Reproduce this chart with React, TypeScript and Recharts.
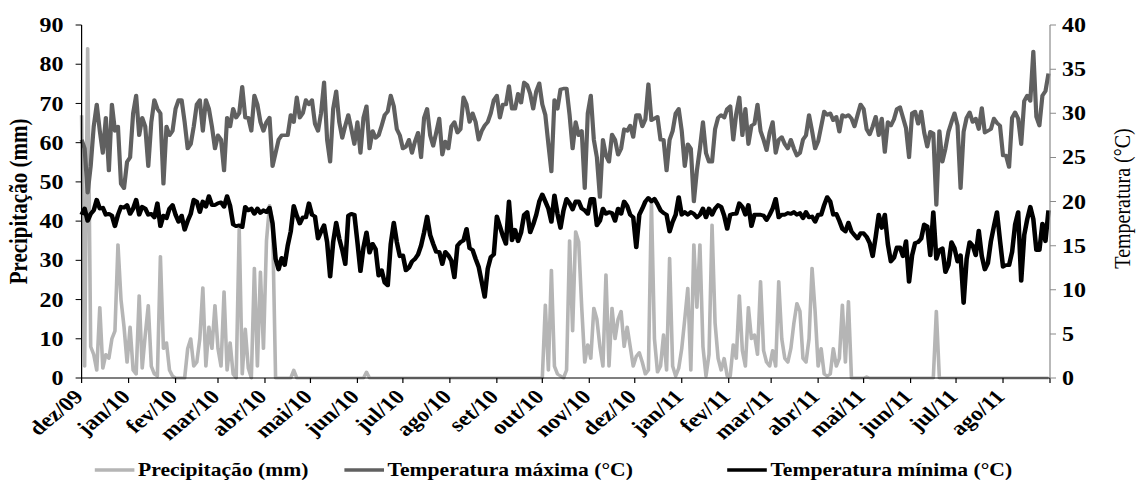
import React from 'react';
import { ComposedChart, Line, XAxis, YAxis, Legend, Label } from 'recharts';

const FONT = "'Liberation Serif', 'Times New Roman', serif";
const STEP_DAYS = 2;

// day index (from 01/dez/2009) where each month starts
const monthStarts = [0, 31, 62, 90, 121, 151, 182, 212, 243, 274, 304, 335, 365, 396, 427, 455, 486, 516, 547, 577, 608, 639];
const monthLabels = ['dez/09', 'jan/10', 'fev/10', 'mar/10', 'abr/10', 'mai/10', 'jun/10', 'jul/10', 'ago/10', 'set/10', 'out/10', 'nov/10', 'dez/10', 'jan/11', 'fev/11', 'mar/11', 'abr/11', 'mai/11', 'jun/11', 'jul/11', 'ago/11', ''];

const leftTicks = [0, 10, 20, 30, 40, 50, 60, 70, 80, 90];
const rightTicks = [0, 5, 10, 15, 20, 25, 30, 35, 40];

// one value every 2 days
const precipitacao = [
  67, 3, 84, 8, 6, 2, 18, 2.5, 6, 5,
  10, 12, 34, 20, 13, 4, 13, 2, 1, 21,
  2.5, 11, 18.5, 3, 1, 0.5, 31, 7.5, 9, 2,
  0.5, 0, 0, 0, 0, 7.5, 10, 3, 4, 10,
  23, 3, 13, 7.5, 18.5, 7.5, 3, 22, 2, 9,
  1, 0, 38, 1, 12.5, 2.5, 0, 28, 3, 27,
  7.5, 35,
  44, 40, 0, 0, 0, 0, 0, 0, 2, 0,
  0, 0, 0, 0, 0, 0, 0, 0, 0, 0,
  0, 0, 0, 0, 0, 0, 0, 0, 0, 0,
  0, 0, 1.5, 0, 0, 0, 0, 0, 0, 0,
  0, 0, 0, 0, 0, 0, 0, 0, 0, 0,
  0, 0, 0, 0, 0, 0, 0, 0, 0, 0,
  0, 0, 0, 0, 0, 0,
  0, 0, 0, 0, 0, 0, 0, 0, 0, 0,
  0, 0, 0, 0, 0, 0, 0, 0, 0, 0,
  0, 0, 0, 0, 0,
  18.6, 2, 27.5, 3, 1, 0.5, 0, 2, 35, 12,
  37.3, 34.7, 18, 4, 8.5, 5, 17.8, 15, 8, 3,
  26.3, 3, 17.8, 10, 15, 17, 8, 13, 8, 3,
  5.5, 6.5, 4, 1, 2, 45, 10, 1.5, 3, 11,
  2, 30.5, 3, 0.5, 2.5, 7.5, 15, 22.9, 2, 34,
  18, 34, 8, 0.5, 6, 39, 14, 5, 2, 5,
  0.5, 0.5, 8.5, 5, 21, 7, 3, 18, 10, 11,
  6, 24.6, 7, 4, 3, 7, 3, 24.6, 10, 5,
  4, 7.5, 14, 19, 17, 5, 4, 10, 28, 17,
  3, 7.5, 1, 0.5, 1, 7.5, 3, 5, 18.6, 4,
  19.5, 0, 0, 0,
  0, 0, 0.3, 0, 0, 0, 0, 0, 0, 0,
  0, 0, 0, 0, 0, 0, 0, 0, 0, 0,
  0, 0, 0, 0, 0, 17, 0, 0, 0, 0,
  0, 0, 0, 0, 0, 0, 0, 0, 0, 0,
  0, 0, 0, 0, 0, 0, 0, 0, 0, 0,
  0, 0, 0, 0, 0, 0, 0, 0, 0, 0,
  0, 0, 0,
];

const tempMaxima = [
  27, 26, 21, 24, 28.5, 31, 28, 25.5, 29.5, 23.5,
  31, 28, 28.5, 22, 21.5, 24.5, 25, 30, 32, 27.5,
  29.5, 28.5, 24, 29, 31.5, 30.5, 30, 22, 28.5, 27.5,
  28, 30.5, 31.5, 31.5, 29, 26, 26.5, 28.5, 31, 31.5,
  28, 31.5, 30.5, 28.5, 26, 27.5, 27, 23.5, 29.5, 28.5,
  30.5, 29.5, 30, 33, 29.5, 29.5, 28, 32, 31, 29,
  28, 29,
  29.5, 24, 25.5, 27, 27.5, 27.5, 27.5, 29.8, 29, 31.8,
  29.5, 30, 31.5, 31, 31.5, 28.8, 28, 30, 33.5, 27,
  24.5, 30.5, 32.5, 29, 27.2, 28.6, 29.8, 28.2, 26.5, 29,
  25.5, 29.5, 30.8, 26, 28, 27.2, 27.5, 28.6, 29.8, 30.2,
  32, 30.8, 28.2, 27.5, 26, 26.2, 27, 25.5, 26.8, 27.8,
  25, 29.5, 30.5, 27.5, 26.3, 27.8, 29.4, 25.3, 26.8, 26,
  28.5, 29, 27.8, 28.2, 31.8, 31,
  29, 30, 29, 27, 28, 28.6, 29, 30, 31.5, 32,
  29.5, 31, 31, 33.1, 30.5, 30.5, 32.2, 31.2, 33.5, 33.2,
  32.2, 30.5, 32.5, 33.4, 31, 29.8, 26.5, 23.4, 31.5, 30.5,
  32.7, 32.8, 32.8, 29.8, 26, 29, 27.5, 28, 21.5, 30,
  32, 27, 25, 20.5, 27, 25.2, 24.5, 27.6, 27, 25.3,
  26, 28.2, 28, 28.6, 27.3, 29.8, 29.8, 28.5, 29.3, 33.3,
  29.2, 29.4, 29.6, 27, 27,
  23.5, 27, 28, 30, 30.5, 28, 24, 26.5, 26, 20,
  23.5, 26, 29, 25.5, 24.5, 24.5, 28.2, 29.5, 29.8, 29.5,
  30.5, 30.8, 27, 30, 31.8, 27.5, 30.5, 26.5, 28.6, 28.8,
  31, 28, 27, 25.8, 27.8, 29, 25.5, 27, 27.3, 26.5,
  26, 27, 26, 25.2, 25.5, 27, 27.5, 29.8, 28, 26,
  26.8, 28.5, 30.2, 29.8, 30, 29.2, 29.6, 27.9, 29.8, 29.6,
  29.8, 29.4, 28.5, 29.8,
  31, 30.5, 28.2, 27.6, 28.5, 29.6, 27.5, 29.4, 25.6, 29,
  28.6, 29.3, 30.5, 30.7, 29.5, 28.3, 25, 30, 30.2, 28.8,
  30.2, 27.8, 26.2, 27.9, 27.7, 19.6, 28, 24.5, 26, 27.9,
  29, 30, 28.6, 21.5, 27.9, 29.5, 30.1, 29, 29.4, 28.2,
  30.6, 27.8, 28, 28.2, 29.4, 28.9, 28.6, 25.2, 25.2, 23.9,
  29.5, 30.1, 29.4, 26.5, 31.4, 32, 31.4, 37, 29.6, 28.6,
  32, 32.5, 34.5,
];

const tempMinima = [
  18.5, 19.2, 17.8, 18.6, 19, 20.2, 19.2, 19.3, 18.5, 18.6,
  18.4, 17.2, 18.5, 19.4, 19.3, 19.6, 18.6, 19.2, 20.2, 18.5,
  19.4, 19.2, 18.5, 18.6, 18.2, 19.8, 17.2, 18.4, 18.1, 19.2,
  19.6, 18.5, 17.7, 18.4, 16.8, 17.8, 18.6, 20.2, 20, 18.8,
  20, 19.4, 20.6, 19.6, 19.6, 19.8, 19.9, 19.4, 20.6, 19.5,
  17.4, 17.2, 17.3, 17.1, 19.4, 19, 19.2, 18.6, 19.2, 18.7,
  19, 18.8,
  19.3, 17.5, 13.5, 12.3, 13.6, 12.8, 15, 16.6, 19.5, 18.4,
  17.5, 18.2, 18.2, 19.8, 18.5, 18.3, 15.8, 16.6, 17.3, 15.4,
  11.5, 15.4, 17.6, 15.8, 14.5, 12.9, 18.4, 18.6, 18.5, 15.4,
  12.1, 14.8, 16.5, 14.2, 15.2, 14.6, 11.6, 12.2, 10.8, 10.5,
  15.2, 17.6, 15.4, 13.8, 13.9, 12.2, 12.5, 13.2, 13.5, 14,
  15, 16.5, 18.3, 16.2, 15.2, 14.3, 14.3, 12.9, 14.3, 13.9,
  13.3, 11.4, 15, 15.4, 15.6, 16.9,
  14.7, 14.5, 13.5, 12.6, 10.9, 9.2, 12.4, 13.7, 14, 18.3,
  17.2, 16.1, 15.2, 20, 15.6, 16.8, 15.5, 16.5, 18.5, 18.8,
  16.5, 17.4, 18.5, 20, 20.8, 20, 19.2, 17.7, 20.7, 18.6,
  17, 19, 20.3, 19.8, 19.1, 20, 20, 19.2, 19, 18.6,
  20.3, 20.3, 17.3, 17.8, 19.2, 18.6, 18.8, 18.7, 17.8, 19.2,
  18.6, 20, 19.5, 18.5, 18.2, 14.8, 18.5, 19.2, 20, 20.4,
  20, 20.3, 19.7, 19, 18.7,
  18.5, 16.6, 17.7, 18.5, 20.5, 18.5, 18.8, 18.5, 18.8, 18.6,
  18.2, 18.5, 19.2, 18.2, 19.2, 18.5, 19.2, 19.6, 19.4, 18.4,
  16.9, 18.5, 18.6, 18.6, 19.8, 19.4, 18.5, 19.6, 17.2, 18.5,
  18.5, 18.5, 18.4, 17.9, 18.5, 19.2, 20.3, 18.2, 18.5, 18.5,
  18.7, 18.6, 18.8, 18.5, 18.7, 18.1, 18.8, 18.2, 18.3, 17.7,
  18.5, 18.5, 19.6, 20.5, 20, 18.5, 18.6, 17.8, 16.9, 16.6,
  17.6, 16.6, 16.2, 15.8,
  16.4, 16.4, 16, 15.3, 13.8, 16, 18.5, 17, 18.5, 15.2,
  13.2, 13.6, 14.8, 14.8, 13.8, 15.5, 10.9, 13.9, 15.3, 15.4,
  15.8, 17.4, 17.2, 13.9, 18.8, 13.5, 14.5, 14.7, 12, 12.8,
  15.4, 14.7, 13.2, 13.9, 8.5, 13.5, 15.4, 15, 13.9, 16.7,
  13.8, 12.3, 13, 15.5, 17.2, 18.8, 15.6, 12.6, 12.8, 12.8,
  14.3, 17.4, 18.8, 11, 16.2, 18, 19.4, 18, 14.5, 14.5,
  17.5, 15.5, 19,
];

const series = [
  { key: 'precip', name: 'Precipitação (mm)', color: '#b5b5b5', width: 3, axis: 'left' },
  { key: 'tmax', name: 'Temperatura máxima (°C)', color: '#606060', width: 3.5, axis: 'right' },
  { key: 'tmin', name: 'Temperatura mínima (°C)', color: '#000000', width: 3.8, axis: 'right' },
];

const data = precipitacao.map((p, i) => ({
  day: i * STEP_DAYS,
  precip: p,
  tmax: tempMaxima[i],
  tmin: tempMinima[i],
}));

const MonthTick = (props: any) => {
  const { x, y, payload } = props;
  const label = monthLabels[monthStarts.indexOf(payload.value)] || '';
  if (!label) return <g />;
  const ax = x + 2.5;
  const ay = y + 13;
  return (
    <text x={ax} y={ay} transform={`rotate(-45 ${ax} ${ay})`} textAnchor="end"
      fontSize={20} fontWeight={700} fontFamily={FONT} fill="#000">
      {label}
    </text>
  );
};

const LeftTitle = (props: any) => {
  const { x, y, height } = props.viewBox;
  const cx = x + 15;
  const cy = y + height / 2;
  return (
    <text x={cx} y={cy} transform={`rotate(-90 ${cx} ${cy})`} textAnchor="middle" dominantBaseline="central"
      fontSize={21} fontWeight={700} fontFamily={FONT} fill="#000">
      Precipitação (mm)
    </text>
  );
};

const RightTitle = (props: any) => {
  const { x, y, height } = props.viewBox;
  const cx = x + 60;
  const cy = y + height / 2 - 3;
  return (
    <text x={cx} y={cy} transform={`rotate(-90 ${cx} ${cy})`} textAnchor="middle" dominantBaseline="central"
      fontSize={20} fontFamily={FONT} fill="#000">
      Temperatura (°C)
    </text>
  );
};

const LegendContent = () => {
  const startX = [79, 287, 606];
  return (
    <svg width={952} height={30} style={{ display: 'block' }}>
      {series.map((s, i) => (
        <g key={s.key}>
          <line x1={startX[i]} x2={startX[i] + 33} y1={15} y2={15} stroke={s.color} strokeWidth={3.5} />
          <text x={startX[i] + 36} y={21} fontSize={18} fontWeight={700} fontFamily={FONT} fill="#000">
            {s.name}
          </text>
        </g>
      ))}
    </svg>
  );
};

const tickStyle = { fill: '#000', fontSize: 20, fontWeight: 700, fontFamily: FONT };

export default function App() {
  return (
    <div style={{ position: 'absolute', left: 0, top: 0, width: 952, height: 486, background: '#fff', transform: 'scaleX(1.2)', transformOrigin: '0 0' }}>
      <ComposedChart width={952} height={486} data={data} margin={{ top: 25, right: 0, bottom: 0, left: 0 }}>
        <XAxis
          dataKey="day"
          type="number"
          domain={[0, 639]}
          ticks={monthStarts}
          interval={0}
          height={108}
          tickSize={5}
          tick={<MonthTick />}
          axisLine={{ stroke: '#000' }}
          tickLine={{ stroke: '#000' }}
        />
        <YAxis
          yAxisId="left"
          domain={[0, 90]}
          ticks={leftTicks}
          interval={0}
          width={68}
          tickSize={5}
          tickMargin={10}
          tick={tickStyle}
          axisLine={{ stroke: '#000' }}
          tickLine={{ stroke: '#000' }}
        >
          <Label content={<LeftTitle />} />
        </YAxis>
        <YAxis
          yAxisId="right"
          orientation="right"
          domain={[0, 40]}
          ticks={rightTicks}
          interval={0}
          width={77}
          tickSize={5}
          tickMargin={5}
          tick={tickStyle}
          axisLine={{ stroke: '#8a8a8a' }}
          tickLine={{ stroke: '#8a8a8a' }}
        >
          <Label content={<RightTitle />} />
        </YAxis>
        <Legend
          layout="horizontal"
          verticalAlign="middle"
          align="center"
          content={() => <LegendContent />}
          wrapperStyle={{ top: 455, left: 0, width: 952, height: 30 }}
        />
        {series.map((s) => (
          <Line
            key={s.key}
            yAxisId={s.axis}
            dataKey={s.key}
            name={s.name}
            type="linear"
            stroke={s.color}
            strokeWidth={s.width}
            strokeLinejoin="round"
            dot={false}
            activeDot={false}
            isAnimationActive={false}
          />
        ))}
      </ComposedChart>
    </div>
  );
}
